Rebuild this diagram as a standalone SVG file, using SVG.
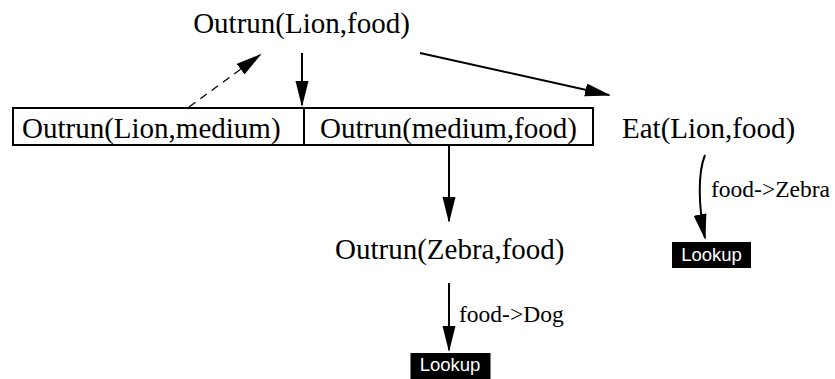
<svg xmlns="http://www.w3.org/2000/svg" width="835" height="379" viewBox="0 0 835 379">
<style>
.t{font-family:"Liberation Serif","Times New Roman",serif;font-size:29px;fill:#000}
.l{font-family:"Liberation Serif","Times New Roman",serif;font-size:23.5px;fill:#000}
.k{font-family:"Liberation Sans",Arial,sans-serif;font-size:18.5px;fill:#fff}
.e{fill:none;stroke:#000;stroke-width:2}
.d{fill:none;stroke:#000;stroke-width:1.3;stroke-dasharray:8 6}
</style>
<defs>
<marker id="ah" markerUnits="userSpaceOnUse" markerWidth="28" markerHeight="14" refX="24" refY="6.5" orient="auto">
<path d="M0,0 L26,6.5 L0,13 z" fill="#000"/>
</marker>
</defs>
<rect width="835" height="379" fill="#fff"/>
<g id="connectors">
<line class="d" x1="189" y1="107" x2="260" y2="55" marker-end="url(#ah)"/>
<line class="e" x1="302" y1="53" x2="302" y2="105" marker-end="url(#ah)"/>
<line class="e" x1="420" y1="53" x2="609" y2="95" marker-end="url(#ah)"/>
<line class="e" x1="449" y1="145" x2="449" y2="221" marker-end="url(#ah)"/>
<path class="e" d="M705,155 C698,172 698,205 705,238" marker-end="url(#ah)"/>
<text class="l" x="711" y="197">food-&gt;Zebra</text>
<line class="e" x1="449" y1="283" x2="449" y2="350" marker-end="url(#ah)"/>
<text class="l" x="459" y="322">food-&gt;Dog</text>
</g>
<g id="n-outrun-lion-food">
<text class="t" x="301.5" y="33" text-anchor="middle">Outrun(Lion,food)</text>
</g>
<g id="n-box">
<rect x="13" y="108" width="580" height="37" fill="#fff" stroke="#000" stroke-width="2"/>
<line x1="304" y1="108" x2="304" y2="145" stroke="#000" stroke-width="2"/>
<text class="t" x="22" y="138">Outrun(Lion,medium)</text>
<text class="t" x="320" y="138">Outrun(medium,food)</text>
</g>
<g id="n-eat">
<text class="t" x="622" y="138">Eat(Lion,food)</text>
</g>
<g id="n-outrun-zebra-food">
<text class="t" x="335" y="259">Outrun(Zebra,food)</text>
</g>
<g id="n-lookup1">
<rect x="672" y="242" width="79" height="26" fill="#000"/>
<text class="k" x="711.5" y="260.5" text-anchor="middle">Lookup</text>
</g>
<g id="n-lookup2">
<rect x="410.5" y="353" width="80" height="26" fill="#000"/>
<text class="k" x="450" y="371" text-anchor="middle">Lookup</text>
</g>
</svg>
